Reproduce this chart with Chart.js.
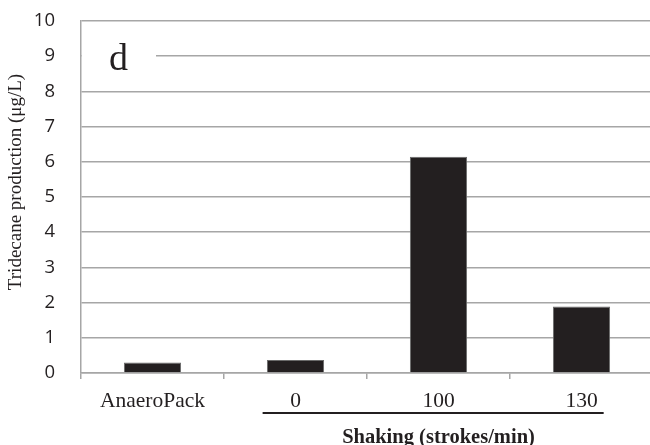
<!DOCTYPE html>
<html>
<head>
<meta charset="utf-8">
<script src="https://cdn.jsdelivr.net/npm/chart.js@4.4.0/dist/chart.umd.min.js"></script>
<style>
    html, body { margin: 0; padding: 0; background: #fff; overflow: hidden; }
    #wrap { width: 653px; height: 445px; position: relative; }
</style>
</head>
<body>
<div id="wrap"><canvas id="myBarChart"></canvas></div>
<script>
// Datos
const categorias = ['AnaeroPack', '0', '100', '130'];
const produccion = [0.30, 0.37, 6.14, 1.89];
const tituloY = 'Tridecane production (\u03bcg/L)';
const tituloX = 'Shaking (strokes/min)';
const etiquetaPanel = 'd';

const SERIF = '"Liberation Serif", "Times New Roman", serif';
const GRIS = '#a6a6a6';

// Dibuja la etiqueta del panel, el título del eje y la línea de agrupación
const decoraciones = {
    id: 'decoraciones',
    beforeDatasetsDraw(chart) {
        const { ctx, chartArea, scales } = chart;
        const y9 = scales.y.getPixelForValue(9);
        // tapa la línea de la cuadrícula detrás de la "d"
        ctx.save();
        ctx.fillStyle = '#fff';
        ctx.fillRect(chartArea.left + 1, y9 - 4, 156 - chartArea.left - 1, 8);
        ctx.restore();
    },
    afterDraw(chart) {
        const { ctx, scales } = chart;
        const x = scales.x;
        const y = scales.y;
        ctx.save();
        // letra del panel
        ctx.fillStyle = '#231f20';
        ctx.font = '38px ' + SERIF;
        ctx.textAlign = 'left';
        ctx.textBaseline = 'alphabetic';
        ctx.fillText(etiquetaPanel, 109, y.getPixelForValue(9) + 14);

        // título del eje Y
        ctx.translate(16, 182);
        ctx.rotate(-Math.PI / 2);
        ctx.font = '19px ' + SERIF;
        ctx.textAlign = 'center';
        ctx.textBaseline = 'middle';
        ctx.fillText(tituloY, 0, 0);
        ctx.setTransform(1, 0, 0, 1, 0, 0);

        // línea bajo las categorías de agitación
        const paso = x.getPixelForValue(1) - x.getPixelForValue(0);
        const x0 = x.getPixelForValue(1) - 0.23 * paso;
        const x1 = x.getPixelForValue(3) + 0.155 * paso;
        ctx.strokeStyle = '#231f20';
        ctx.lineWidth = 2;
        ctx.beginPath();
        ctx.moveTo(x0, 413);
        ctx.lineTo(x1, 413);
        ctx.stroke();

        // título del eje X
        ctx.font = 'bold 20.5px ' + SERIF;
        ctx.textAlign = 'center';
        ctx.textBaseline = 'alphabetic';
        ctx.fillText(tituloX, x.getPixelForValue(2), 443);
        ctx.restore();
    }
};

const ctx = document.getElementById('myBarChart').getContext('2d');
new Chart(ctx, {
    type: 'bar',
    data: {
        labels: categorias,
        datasets: [
            {
                label: 'Tridecane',
                data: produccion,
                backgroundColor: '#231f20',
                borderColor: '#6a6a6a',
                borderWidth: 1,
                categoryPercentage: 1,
                barPercentage: 0.4
            }
        ]
    },
    options: {
        responsive: true,
        maintainAspectRatio: false,
        animation: false,
        layout: { padding: { top: 21, left: 0, right: 0, bottom: 0 } },
        plugins: {
            legend: { display: false },
            tooltip: { enabled: false }
        },
        scales: {
            x: {
                offset: true,
                grid: {
                    offset: true,
                    drawOnChartArea: false,
                    drawTicks: true,
                    tickLength: 6,
                    color: GRIS,
                    lineWidth: 1.5
                },
                border: { color: GRIS, width: 1.5 },
                ticks: {
                    color: '#231f20',
                    font: { family: SERIF, size: 21.5 },
                    padding: 9,
                    maxRotation: 0
                },
                afterFit: (s) => {
                    s.height = 72;
                    s.paddingLeft = 0;
                    s.paddingRight = 0;
                }
            },
            y: {
                min: 0,
                max: 10,
                grid: {
                    color: GRIS,
                    lineWidth: 1.5,
                    drawTicks: false
                },
                border: { color: GRIS, width: 1.5 },
                ticks: {
                    stepSize: 1,
                    color: '#231f20',
                    font: { family: '"Open Sans", "Noto Sans", sans-serif', size: 18.5 },
                    padding: 26
                },
                afterFit: (s) => {
                    s.width = 81;
                    s.paddingTop = 0;
                    s.paddingBottom = 0;
                }
            }
        }
    },
    plugins: [decoraciones]
});
</script>
</body>
</html>
